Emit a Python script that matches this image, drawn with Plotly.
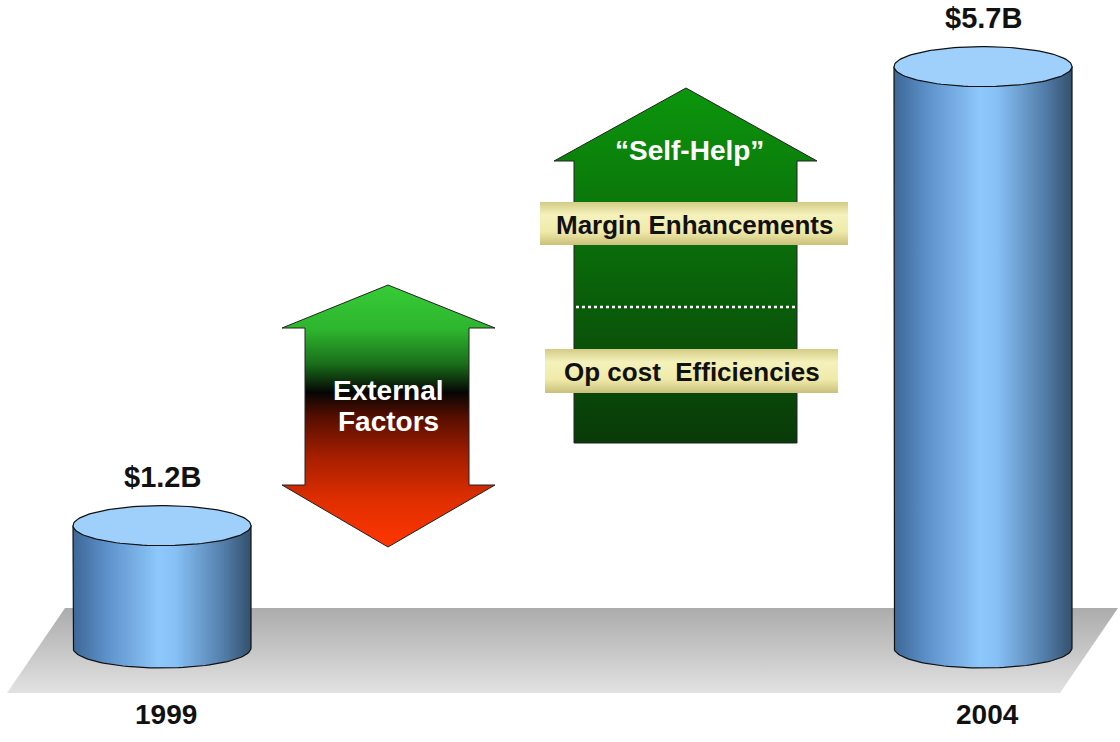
import numpy as np
import plotly.graph_objects as go

# ---------------- data ----------------
years = ["1999", "2004"]
values = [1.2, 5.7]                      # $B
value_labels = ["$1.2B", "$5.7B"]

external_label = ["External", "Factors"]
selfhelp_label = "\u201cSelf-Help\u201d"
driver_labels = ["Margin Enhancements", "Op cost\u00a0 Efficiencies"]

# ---------------- layout constants ----------------
W, H = 1120, 742
BASE_PX = 648          # pixel row of the $0 level
PX_PER_B = 102         # pixels per $1B
X_CENTER = [162, 983]
RX = 89
RY = 20 / PX_PER_B
FONT = "Liberation Sans, Arial, sans-serif"

BODY_SCALE = [[0, "#3d6796"], [0.18, "#5c8fc8"], [0.48, "#8dc7fb"],
              [0.58, "#86c0f5"], [0.85, "#527ca8"], [1, "#34506d"]]
TOP_FILL = "#9fd0fc"


def py(p):
    """pixel row -> y value, for the decorations"""
    return (BASE_PX - np.asarray(p, dtype=float)) / PX_PER_B


def vgrad(top_px, bot_px, scale):
    return dict(type="vertical", start=float(py(top_px)), stop=float(py(bot_px)),
                colorscale=scale)


def ellipse(xc, yc, t0, t1, n=60):
    t = np.linspace(t0, t1, n)
    return xc + RX * np.cos(t), yc + RY * np.sin(t)


fig = go.Figure()

# floor
fig.add_trace(go.Scatter(
    x=[7, 65, 1118, 1060, 7], y=py([693, 608, 608, 693, 693]),
    mode="lines", line=dict(width=0), fill="toself",
    fillgradient=vgrad(608, 693, [[0, "#acacac"], [0.5, "#c6c6c6"], [1, "#e2e2e2"]]),
    hoverinfo="skip"))

# cylinders
for xc, v in zip(X_CENTER, values):
    ax, ay = ellipse(xc, 0, np.pi, 2 * np.pi)
    bx = np.concatenate([[xc - RX, xc - RX], ax, [xc + RX, xc + RX, xc - RX]])
    by = np.concatenate([[v, 0], ay, [0, v, v]])
    fig.add_trace(go.Scatter(
        x=bx, y=by, mode="lines", line=dict(color="#111111", width=1.2),
        fill="toself",
        fillgradient=dict(type="horizontal", colorscale=BODY_SCALE),
        hoverinfo="skip"))
    tx, ty = ellipse(xc, v, 0, 2 * np.pi, 120)
    fig.add_trace(go.Scatter(
        x=tx, y=ty, mode="lines", line=dict(color="#111111", width=1.2),
        fill="toself", fillcolor=TOP_FILL, hoverinfo="skip"))

# External Factors double arrow
fig.add_trace(go.Scatter(
    x=[388, 495, 469, 469, 495, 388, 282, 305, 305, 282, 388],
    y=py([285, 328, 328, 485, 485, 547, 485, 485, 328, 328, 285]),
    mode="lines", line=dict(color="#222222", width=1), fill="toself",
    fillgradient=vgrad(285, 547, [
        [0, "#36cc36"], [0.17, "#2eb52e"], [0.3, "#1a6f1a"], [0.41, "#050505"],
        [0.5, "#540e00"], [0.66, "#a81f00"], [0.82, "#df2e00"], [1, "#ff3600"]]),
    hoverinfo="skip"))

# Self-Help up arrow
fig.add_trace(go.Scatter(
    x=[686, 817, 797, 797, 574, 574, 554, 686],
    y=py([88, 161, 161, 443, 443, 161, 161, 88]),
    mode="lines", line=dict(color="#222222", width=1), fill="toself",
    fillgradient=vgrad(88, 443, [[0, "#0c960c"], [0.4, "#0a700a"], [1, "#093a09"]]),
    hoverinfo="skip"))

# dotted separator
fig.add_trace(go.Scatter(
    x=[576, 795], y=py([307, 307]), mode="lines",
    line=dict(color="white", width=2.5, dash="dot"), hoverinfo="skip"))

# yellow driver labels
boxes = [(540, 848, 202, 245), (545, 838, 349, 393)]
for (x0, x1, y0, y1) in boxes:
    fig.add_trace(go.Scatter(
        x=[x0, x1, x1, x0, x0], y=py([y0, y0, y1, y1, y0]),
        mode="lines", line=dict(width=0), fill="toself",
        fillgradient=vgrad(y0, y1, [
            [0, "#d3cc86"], [0.3, "#f5f1bb"], [0.7, "#efe9a9"], [1, "#c9c07a"]]),
        hoverinfo="skip"))

ann = []
for xc, v, lab, yr in zip(X_CENTER, values, value_labels, years):
    ann.append(dict(x=xc, y=v, text=f"<b>{lab}</b>", yshift=49,
                    font=dict(size=29, color="#111111")))
    ann.append(dict(x=xc + 4, y=0, text=f"<b>{yr}</b>", yshift=-66,
                    font=dict(size=28, color="#111111")))

ann.append(dict(x=388, y=py(390), text=f"<b>{external_label[0]}</b>",
                font=dict(size=28, color="white")))
ann.append(dict(x=388, y=py(421), text=f"<b>{external_label[1]}</b>",
                font=dict(size=28, color="white")))
ann.append(dict(x=689, y=py(150), text=f"<b>{selfhelp_label}</b>",
                font=dict(size=28, color="white")))
for (x0, x1, y0, y1), lab in zip(boxes, driver_labels):
    ann.append(dict(x=(x0 + x1) / 2, y=py((y0 + y1) / 2 + 1),
                    text=f"<b>{lab}</b>", font=dict(size=26, color="#111111")))

for a in ann:
    a["y"] = float(a["y"])
    a.update(xref="x", yref="y", showarrow=False, xanchor="center", yanchor="middle")

fig.update_layout(
    width=W, height=H, margin=dict(l=0, r=0, t=0, b=0),
    paper_bgcolor="white", plot_bgcolor="white", showlegend=False,
    font=dict(family=FONT),
    xaxis=dict(range=[0, W], visible=False, fixedrange=True),
    yaxis=dict(range=[(BASE_PX - H) / PX_PER_B, BASE_PX / PX_PER_B],
               visible=False, fixedrange=True),
    annotations=ann,
)

fig.write_html("out.html", config={"displayModeBar": False},
               post_script="document.body.style.margin='0';")
